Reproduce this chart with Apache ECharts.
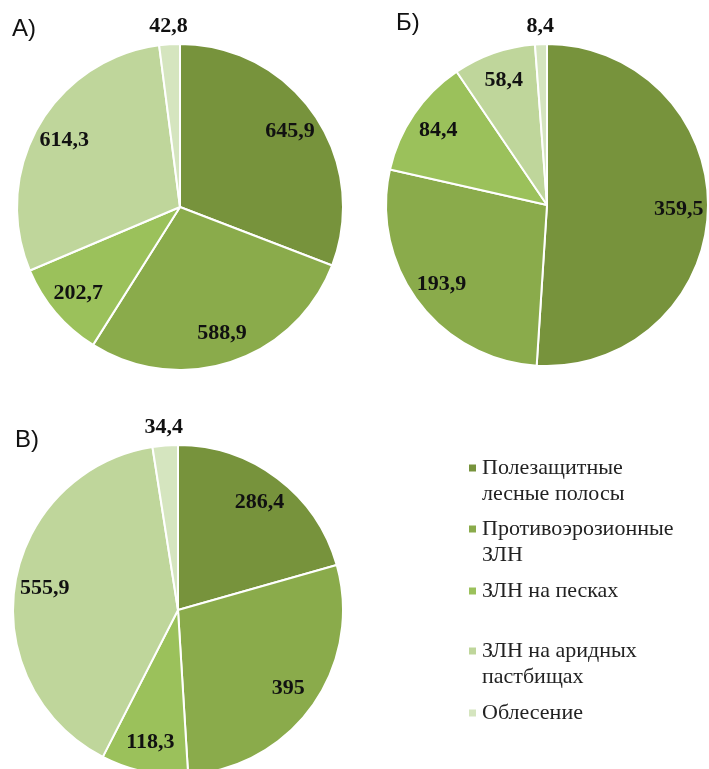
<!DOCTYPE html>
<html>
<head>
<meta charset="utf-8">
<script src="https://cdn.jsdelivr.net/npm/echarts@6/dist/echarts.min.js"></script>
<style>
html,body{margin:0;padding:0;background:#fff;}
#chart{width:709px;height:769px;}
</style>
</head>
<body>
<div id="chart"></div>
<script>
// ---- data ----
const categories = [
  'Полезащитные\nлесные полосы',
  'Противоэрозионные\nЗЛН',
  'ЗЛН на песках',
  'ЗЛН на аридных\nпастбищах',
  'Облесение'
];
const panelTitles = ['А)', 'Б)', 'В)'];
const valuesA = [645.9, 588.9, 202.7, 614.3, 42.8];
const valuesB = [359.5, 193.9, 84.4, 58.4, 8.4];
const valuesV = [286.4, 395, 118.3, 555.9, 34.4];

// ---- styles ----
const colors = ['#77933c', '#8aab4b', '#9bc15b', '#bfd69b', '#d5e5bf'];
const serif = "'Liberation Serif', 'Times New Roman', serif";
const labelFont = {fontFamily: serif, fontWeight: 'bold', fontSize: 22, color: '#111'};

function fmt(v) { return String(v).replace('.', ','); }

function makePie(values, center, R) {
  const main = {
    type: 'pie', center: center, radius: [0, R], startAngle: 90, clockwise: true,
    label: {show: false}, labelLine: {show: false},
    itemStyle: {borderColor: '#fff', borderWidth: 2},
    data: values.map((v, i) => ({name: categories[i], value: v, itemStyle: {color: colors[i]}}))
  };
  const inner = {
    type: 'pie', center: center, radius: [R * 0.6, R], startAngle: 90, clockwise: true,
    silent: true, avoidLabelOverlap: false,
    itemStyle: {color: 'rgba(0,0,0,0)', borderWidth: 0},
    labelLine: {show: false},
    label: Object.assign({show: true, position: 'inside', formatter: p => fmt(p.value)}, labelFont),
    data: values.map((v, i) => ({name: categories[i], value: v, label: {show: i < 4}}))
  };
  const outer = {
    type: 'pie', center: center, radius: [R, R + 30], startAngle: 90, clockwise: true,
    silent: true, avoidLabelOverlap: false,
    itemStyle: {color: 'rgba(0,0,0,0)', borderWidth: 0},
    labelLine: {show: false},
    label: Object.assign({show: true, position: 'inside', formatter: p => fmt(p.value)}, labelFont),
    data: values.map((v, i) => ({name: categories[i], value: v, label: {show: i === 4}}))
  };
  return [main, inner, outer];
}

const legendCenters = [468, 529, 591, 651, 713];
const legends = categories.map((c, i) => {
  const twoLine = c.indexOf('\n') >= 0;
  return {
    left: 467, top: legendCenters[i] - (twoLine ? 39 : 13), padding: 0,
    orient: 'vertical', icon: 'rect', itemWidth: 9, itemHeight: 9, itemGap: 0,
    selectedMode: false,
    formatter: name => (name.indexOf('\n') >= 0 ? '\n' + name : name),
    textStyle: {fontFamily: serif, fontSize: 22, lineHeight: 26, color: '#222'},
    data: [{name: c, itemStyle: {color: colors[i]}}]
  };
});

const titleStyle = {fontFamily: "'Liberation Sans', Arial, sans-serif", fontSize: 24, fontWeight: 'normal', color: '#111'};

const option = {
  animation: false,
  backgroundColor: '#fff',
  title: [
    {text: panelTitles[0], left: 12, top: 17, padding: 0, textStyle: titleStyle},
    {text: panelTitles[1], left: 396, top: 11, padding: 0, textStyle: titleStyle},
    {text: panelTitles[2], left: 15, top: 428, padding: 0, textStyle: titleStyle}
  ],
  legend: legends,
  series: [].concat(
    makePie(valuesA, [180, 207], 163),
    makePie(valuesB, [547, 205], 161),
    makePie(valuesV, [178, 610], 165)
  )
};

const chart = echarts.init(document.getElementById('chart'), null, {renderer: 'canvas'});
chart.setOption(option);
</script>
</body>
</html>
